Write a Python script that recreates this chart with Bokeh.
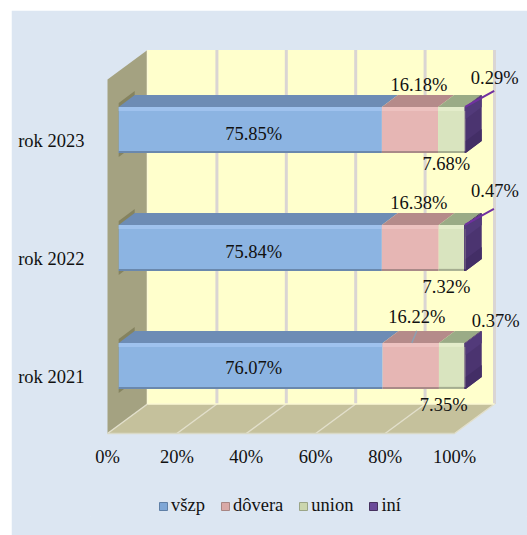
from bokeh.plotting import figure
from bokeh.models import (ColumnDataSource, FixedTicker, Range1d, Legend, LegendItem,
                          GlobalInlineStyleSheet)
from bokeh.core.properties import value
from bokeh.embed import file_html
from bokeh.resources import INLINE

# ---- data ----
years = ["rok 2021", "rok 2022", "rok 2023"]
series_names = ["všzp", "dôvera", "union", "iní"]
vszp = [76.07, 75.84, 75.85]
dovera = [16.22, 16.38, 16.18]
union = [7.35, 7.32, 7.68]
ini = [0.37, 0.47, 0.29]
x_ticks = [0, 20, 40, 60, 80, 100]
x_tick_labels = ["0%", "20%", "40%", "60%", "80%", "100%"]

# ---- style ----
FONT = "Liberation Serif"
FS = "18.5px"
BG = "#dce6f2"
front_col = ["#8cb4e2", "#e6b6b4", "#d9e4bf", "#4b3470"]
light_col = ["#9fc2ee", "#edc2c0", "#e3ecca", "#523a7a"]
dark_col = ["#6a88ad", "#a98a88", "#a5ad90", "#432e66"]
top_col = ["#6d8cb5", "#b58b8a", "#9aab86", "#46315f"]
legend_col = ["#7ea6d6", "#d9a9a7", "#cbd6ae", "#6a4a9a"]
legend_edge = ["#5f7fa6", "#a88684", "#9ba587", "#46315f"]

# ---- 3-D projection: percent + depth -> plot coordinates ----
PX_PER_PCT = 3.47
PX_PER_CAT = 118.0
DEPTH_X = 40 / PX_PER_PCT        # full depth expressed in percent
DEPTH_Y = 29.5 / PX_PER_CAT      # full depth expressed in categories
Y_LOW, Y_HIGH = -0.483, 2.517
D0, D1 = 0.28, 0.68              # bar depth span
HALF = 23 / PX_PER_CAT
LIFT = 0.02


def X(v, d=0.0):
    return v + DEPTH_X * d


def Y(y, d=0.0):
    return y + DEPTH_Y * d


def px(n):
    return n / PX_PER_CAT


ORIGIN_X, ORIGIN_Y = 107, 376     # page pixel of (0%, rok 2021)
F_L, F_R, F_T, F_B = 90, 527, 40, 516
PAGE_BOTTOM = 546
AXIS_AT = 436

p = figure(width=516, height=PAGE_BOTTOM - 10, output_backend="svg", toolbar_location=None,
           x_range=Range1d((F_L - ORIGIN_X) / PX_PER_PCT, (F_R - ORIGIN_X) / PX_PER_PCT),
           y_range=Range1d((ORIGIN_Y - F_B) / PX_PER_CAT, (ORIGIN_Y - F_T) / PX_PER_CAT),
           min_border_left=F_L - 11, min_border_right=0,
           min_border_top=F_T - 10, min_border_bottom=PAGE_BOTTOM - F_B,
           background_fill_color=BG, border_fill_color=BG,
           outline_line_color=BG, outline_line_width=1)
p.stylesheets.append(GlobalInlineStyleSheet(css="body{margin:10px 0 0 11px !important;background:#fff;overflow:hidden}"))
p.grid.visible = False

# axes
ax = p.xaxis[0]
ax.fixed_location = (ORIGIN_Y - AXIS_AT) / PX_PER_CAT
ax.ticker = FixedTicker(ticks=x_ticks)
ax.major_label_overrides = dict(zip(x_ticks, x_tick_labels))
ax.axis_line_color = None
ax.major_tick_line_color = None
ax.minor_tick_line_color = None
ax.major_label_standoff = 4
ax.major_label_text_font = FONT
ax.major_label_text_font_size = FS
ax.major_label_text_color = "#111111"

ay = p.yaxis[0]
ay.ticker = FixedTicker(ticks=[0, 1, 2])
ay.major_label_overrides = {i: y for i, y in enumerate(years)}
ay.axis_line_color = None
ay.major_tick_line_color = None
ay.minor_tick_line_color = None
ay.major_label_standoff = 0
ay.major_label_text_font = FONT
ay.major_label_text_font_size = FS
ay.major_label_text_color = "#111111"

# walls
p.patch([X(0, 1), X(100, 1), X(100, 1), X(0, 1)],
        [Y(Y_LOW, 1), Y(Y_LOW, 1), Y(Y_HIGH, 1), Y(Y_HIGH, 1)], fill_color="#ffffcc", line_color=None)
p.patch([X(0, 0), X(0, 1), X(0, 1), X(0, 0)],
        [Y(Y_LOW, 0), Y(Y_LOW, 1), Y(Y_HIGH, 1), Y(Y_HIGH, 0)], fill_color="#a4a281", line_color=None)
p.patch([X(0, 0), X(100, 0), X(100, 1), X(0, 1)],
        [Y(Y_LOW, 0), Y(Y_LOW, 0), Y(Y_LOW, 1), Y(Y_LOW, 1)], fill_color="#c5c19c", line_color=None)

# grid
for t in x_ticks[1:]:
    p.line([X(t, 1), X(t, 1)], [Y(Y_LOW, 1), Y(Y_HIGH, 1)], line_color="#dad5d3", line_width=3)
for t in x_ticks:
    p.line([X(t, 0), X(t, 1)], [Y(Y_LOW, 0), Y(Y_LOW, 1)], line_color="#e2dfcb", line_width=1.5)
p.line([X(0, 1), X(100, 1)], [Y(Y_LOW, 1), Y(Y_LOW, 1)], line_color="#fbf9d4", line_width=1.5)
p.line([X(0, 0), X(100, 0)], [Y(Y_LOW, 0), Y(Y_LOW, 0)], line_color="#d9d9c6", line_width=1.5)
p.line([X(0, 1), X(0, 1)], [Y(Y_LOW, 1), Y(Y_HIGH, 1)], line_color="#fdfbd6", line_width=1.5)

# bars
columns = [vszp, dovera, union, ini]

for c in range(3):
    yc = c + LIFT
    # shadow on the side wall
    p.patch([X(0, D0), X(0, D1), X(0, D1), X(0, D0)],
            [Y(yc - HALF - px(4), D0), Y(yc - HALF - px(4), D1), Y(yc + HALF + px(4), D1), Y(yc + HALF + px(4), D0)],
            fill_color="#85835f", line_color=None)

NAN = float("nan")
legend_items = []
for s, col in enumerate(columns):
    start = [sum(columns[k][c] for k in range(s)) for c in range(3)]
    end = [start[c] + col[c] for c in range(3)]
    yc = [c + LIFT for c in range(3)]

    p.patches([[X(a, D0), X(b, D0), X(b, D1), X(a, D1)] for a, b in zip(start, end)],
              [[Y(y + HALF, D0), Y(y + HALF, D0), Y(y + HALF, D1), Y(y + HALF, D1)] for y in yc],
              fill_color=top_col[s], line_color=None)
    p.quad(left=[X(a, D0) for a in start], right=[X(b, D0) for b in end],
           bottom=[Y(y - HALF, D0) for y in yc], top=[Y(y + HALF, D0) for y in yc],
           fill_color=front_col[s], line_color=None)
    p.quad(left=[X(a, D0) for a in start], right=[X(b, D0) for b in end],
           bottom=[Y(y + HALF - px(4), D0) for y in yc], top=[Y(y + HALF, D0) for y in yc],
           fill_color=light_col[s], line_color=None)
    p.quad(left=[X(a, D0) for a in start], right=[X(b, D0) for b in end],
           bottom=[Y(y - HALF, D0) for y in yc], top=[Y(y - HALF + px(2), D0) for y in yc],
           fill_color=dark_col[s], line_color=None)
    # swatch for the legend: nothing to draw in the plot itself
    swatch = p.quad(left=[NAN], right=[NAN], bottom=[NAN], top=[NAN], fill_color=legend_col[s],
                    line_color=legend_edge[s], line_width=1)
    legend_items.append(LegendItem(label=series_names[s], renderers=[swatch]))

# right end of the bars
total = [sum(columns[k][c] for k in range(4)) for c in range(3)]
yc = [c + LIFT for c in range(3)]
p.patches([[X(b, D0), X(b, D1), X(b, D1), X(b, D0)] for b in total],
          [[Y(y - HALF, D0), Y(y - HALF, D1), Y(y + HALF, D1), Y(y + HALF, D0)] for y in yc],
          fill_color=front_col[3], line_color=None)
p.patches([[X(b, D0), X(b, D1), X(b, D1), X(b, D0)] for b in total],
          [[Y(y - HALF, D0), Y(y - HALF, D1), Y(y - HALF + px(12), D1), Y(y - HALF + px(12), D0)] for y in yc],
          fill_color=dark_col[3], line_color=None)
p.patches([[X(b, D0), X(b, D1), X(b, D1), X(b, D0)] for b in total],
          [[Y(y + HALF - px(12), D0), Y(y + HALF - px(12), D1), Y(y + HALF, D1), Y(y + HALF, D0)] for y in yc],
          fill_color=light_col[3], line_color=None)

# data labels: nudges in pixels from the middle of each front segment
nudge_x = [[3, 3.4, 3.4], [6, 8.5, 9], [-8, -5, -5], [30.6, 30, 29.5]]
nudge_y = [[2, 4, 4], [-49, -45, -45], [39, 39, 34], [-45, -57, -52]]
for s, col in enumerate(columns):
    start = [sum(columns[k][c] for k in range(s)) for c in range(3)]
    mid = [start[c] + col[c] / 2 for c in range(3)]
    src = ColumnDataSource(dict(
        x=[X(m, D0) for m in mid],
        y=[Y(c + LIFT, D0) for c in range(3)],
        t=[f"{v:.2f}%" for v in col],
        dx=nudge_x[s], dy=nudge_y[s]))
    p.text("x", "y", text="t", x_offset="dx", y_offset="dy", source=src,
           text_font=value(FONT), text_font_size=FS, text_color="#111111",
           text_align="center", text_baseline="middle")

# leader lines
for c in (2, 1):
    b = total[c] - ini[c] / 2
    p.line([X(b, D0), X(b, D0) + 29 / PX_PER_PCT],
           [Y(c + LIFT + HALF, D0), Y(c + LIFT + HALF, D0) + px(16)],
           line_color="#7030a0", line_width=2)
m = vszp[0] + dovera[0] / 2
p.line([X(m, D0) + 1 / PX_PER_PCT, X(m, D0) + 6 / PX_PER_PCT],
       [Y(LIFT + HALF, D0) + px(0), Y(LIFT + HALF, D0) + px(12)],
       line_color="#8f9fb0", line_width=1.5)

legend = Legend(items=legend_items, orientation="horizontal", location=(68, 0),
                background_fill_alpha=0, border_line_color=None, margin=0, padding=0,
                spacing=15, label_standoff=3, glyph_width=10, glyph_height=10,
                label_text_font=FONT, label_text_font_size=FS, label_text_color="#111111")
p.add_layout(legend)

open("out.html", "w").write(file_html(p, INLINE))
